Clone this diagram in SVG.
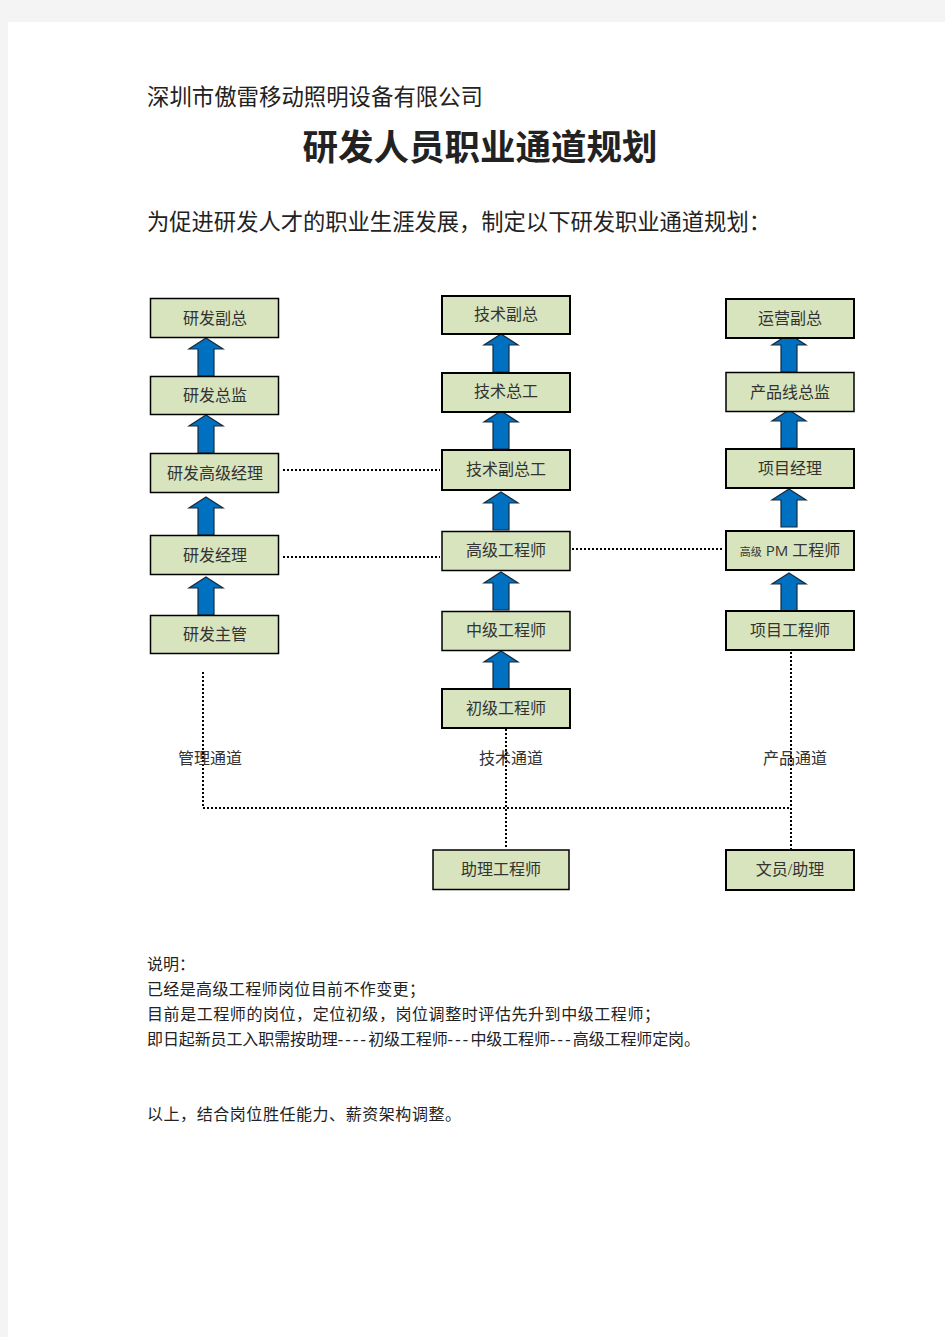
<svg xmlns="http://www.w3.org/2000/svg" width="945" height="1337" viewBox="0 0 945 1337">
<style>
.t{font-family:"Liberation Serif","Noto Sans CJK SC",serif;fill:#222}
.box{fill:#d7e4bd;stroke:#000;stroke-width:1.5}
.boxb{fill:#d7e4bd;stroke:#000;stroke-width:2}
.bt{font-family:"Liberation Serif","Noto Sans CJK SC",serif;font-size:16px;fill:#333;text-anchor:middle}
.dot{fill:none;stroke:#000;stroke-width:2;stroke-dasharray:2 2}
.arr{fill:#0070c0;stroke:#1a2a3a;stroke-width:1.2}
</style>
<defs>
<path id="up" d="M0 0 L17 11 L8 11 L8 38 L-8 38 L-8 11 L-17 11 Z"/>
</defs>
<rect width="945" height="1337" fill="#f4f4f4"/>
<rect x="8" y="22" width="937" height="1315" fill="#fff"/>
<text class="t" x="147" y="105" font-size="22.4" textLength="336" lengthAdjust="spacing">深圳市傲雷移动照明设备有限公司</text>
<text class="t" x="480" y="160" font-size="35.5" font-weight="bold" text-anchor="middle" fill="#000">研发人员职业通道规划</text>
<text class="t" x="147" y="230" font-size="22.3" textLength="624" lengthAdjust="spacing">为促进研发人才的职业生涯发展，制定以下研发职业通道规划：</text>

<g id="connectors">
<line class="dot" x1="283" y1="470" x2="440" y2="470"/>
<line class="dot" x1="283" y1="557" x2="440" y2="557"/>
<line class="dot" x1="572" y1="549" x2="724" y2="549"/>
<polyline class="dot" points="203,672 203,808 791,808"/>
<line class="dot" x1="506" y1="729" x2="506" y2="849"/>
<line class="dot" x1="791" y1="652" x2="791" y2="849"/>
<g class="arr">
<use href="#up" x="206" y="338"/>
<use href="#up" x="206" y="415"/>
<use href="#up" x="206" y="497"/>
<use href="#up" x="206" y="577"/>
<use href="#up" x="501" y="334"/>
<use href="#up" x="501" y="411"/>
<use href="#up" x="501" y="492"/>
<use href="#up" x="501" y="572"/>
<use href="#up" x="501" y="651"/>
<use href="#up" x="789" y="334"/>
<use href="#up" x="789" y="410"/>
<use href="#up" x="789" y="489"/>
<use href="#up" x="789" y="573"/>
</g>
</g>

<g id="n-yffz"><rect class="box" x="150.5" y="298.5" width="128" height="39"/><text class="bt" x="215" y="324">研发副总</text></g>
<g id="n-yfzj"><rect class="box" x="150.5" y="376.5" width="128" height="38"/><text class="bt" x="215" y="401">研发总监</text></g>
<g id="n-yfgjjl"><rect class="box" x="150.5" y="453.5" width="128" height="39"/><text class="bt" x="215" y="479">研发高级经理</text></g>
<g id="n-yfjl"><rect class="box" x="150.5" y="535.5" width="128" height="39"/><text class="bt" x="215" y="561">研发经理</text></g>
<g id="n-yfzg"><rect class="box" x="150.5" y="615.5" width="128" height="38"/><text class="bt" x="215" y="640">研发主管</text></g>

<g id="n-jsfz"><rect class="boxb" x="442" y="296" width="128" height="38"/><text class="bt" x="506" y="320">技术副总</text></g>
<g id="n-jszg"><rect class="boxb" x="442" y="373" width="128" height="39"/><text class="bt" x="506" y="397">技术总工</text></g>
<g id="n-jsfzg"><rect class="boxb" x="442" y="450" width="128" height="40"/><text class="bt" x="506" y="475">技术副总工</text></g>
<g id="n-gjgcs"><rect class="box" x="442" y="531.5" width="128" height="39"/><text class="bt" x="506" y="556">高级工程师</text></g>
<g id="n-zjgcs"><rect class="box" x="442" y="611.5" width="128" height="39"/><text class="bt" x="506" y="636">中级工程师</text></g>
<g id="n-cjgcs"><rect class="boxb" x="442" y="689" width="128" height="39"/><text class="bt" x="506" y="714">初级工程师</text></g>

<g id="n-yyfz"><rect class="boxb" x="726" y="299" width="128" height="39"/><text class="bt" x="790" y="324">运营副总</text></g>
<g id="n-cpxzj"><rect class="box" x="726" y="372.5" width="128" height="39"/><text class="bt" x="790" y="398">产品线总监</text></g>
<g id="n-xmjl"><rect class="boxb" x="726" y="449" width="128" height="39"/><text class="bt" x="790" y="474">项目经理</text></g>
<g id="n-gjpm"><rect class="boxb" x="726" y="531" width="128" height="39"/><text x="790" y="556" text-anchor="middle" fill="#333" font-family="Liberation Serif,Noto Sans CJK SC,serif" font-size="16"><tspan font-size="11">高级</tspan><tspan font-family="Open Sans,Liberation Sans,sans-serif" font-size="15"> PM </tspan>工程师</text></g>
<g id="n-xmgcs"><rect class="boxb" x="726" y="611" width="128" height="39"/><text class="bt" x="790" y="636">项目工程师</text></g>

<g id="n-zlgcs"><rect class="box" x="433" y="850" width="136" height="39.5"/><text class="bt" x="501" y="875">助理工程师</text></g>
<g id="n-wyzl"><rect class="boxb" x="726" y="850" width="128" height="40"/><text class="bt" x="790" y="875">文员/助理</text></g>

<text class="bt" x="210" y="764">管理通道</text>
<text class="bt" x="511" y="764">技术通道</text>
<text class="bt" x="795" y="764">产品通道</text>

<g class="t" font-size="16">
<text x="147" y="970">说明：</text>
<text x="147" y="995" textLength="278" lengthAdjust="spacing">已经是高级工程师岗位目前不作变更；</text>
<text x="147" y="1020" textLength="513" lengthAdjust="spacing">目前是工程师的岗位，定位初级，岗位调整时评估先升到中级工程师；</text>
<text x="147" y="1045" textLength="553" lengthAdjust="spacing">即日起新员工入职需按助理<tspan letter-spacing="2.4">----</tspan>初级工程师<tspan letter-spacing="2.4">---</tspan>中级工程师<tspan letter-spacing="2.4">---</tspan>高级工程师定岗。</text>
<text x="147" y="1120" textLength="314" lengthAdjust="spacing">以上，结合岗位胜任能力、薪资架构调整。</text>
</g>
</svg>
